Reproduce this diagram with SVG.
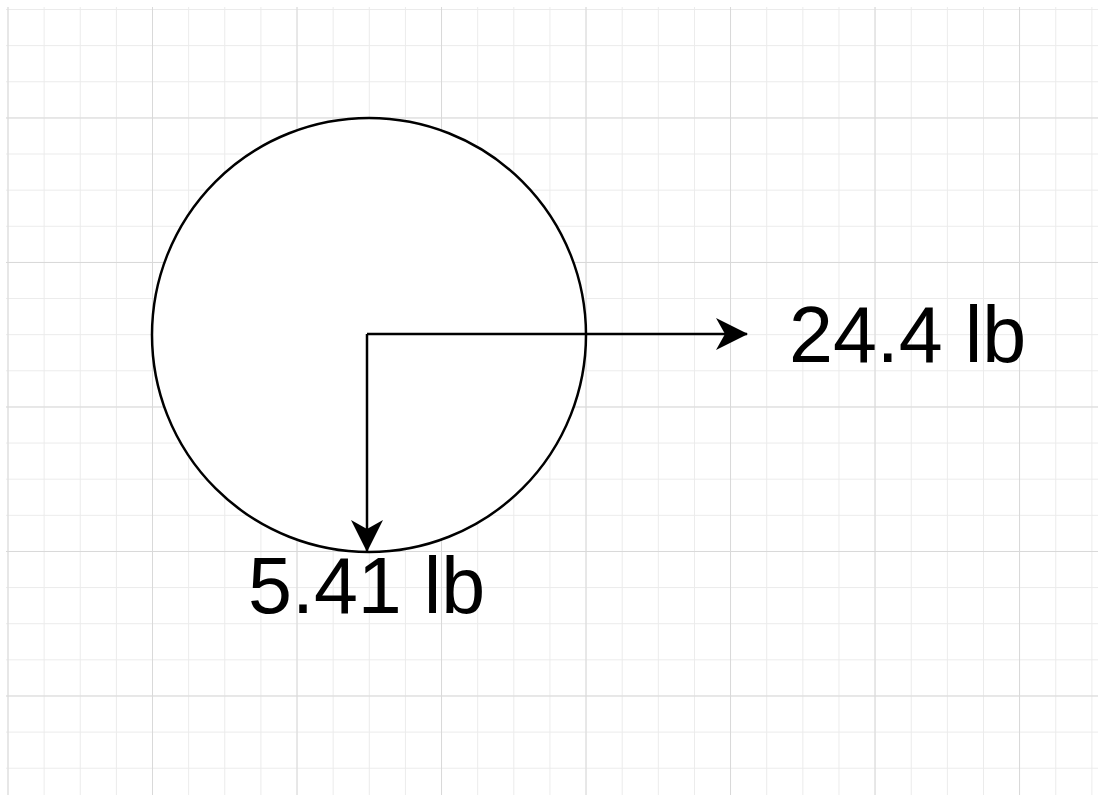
<svg xmlns="http://www.w3.org/2000/svg" width="1098" height="795" viewBox="0 0 1098 795">
<defs>
<style>
.minor{stroke:#ebebeb;stroke-width:2;fill:none}
.major{stroke:#d9d9d9;stroke-width:2;fill:none}
.edge{stroke:#000;stroke-width:2.5;fill:none}
.lbl{font-family:"Liberation Sans",Arial,sans-serif;font-size:79px;fill:#000}
</style>
<marker id="arr" viewBox="0 0 32 32" refX="31" refY="16" markerWidth="32" markerHeight="32" markerUnits="userSpaceOnUse" orient="auto">
<path d="M0,0 L32,16 L0,32 L9,16 Z" fill="#000"/>
</marker>
<pattern id="gmin" x="7.5" y="9" width="36.13" height="36.13" patternUnits="userSpaceOnUse">
<path d="M0,0 H36.13 M0,0 V36.13" class="minor"/>
</pattern>
<pattern id="gmaj" x="7.5" y="117.5" width="144.5" height="144.5" patternUnits="userSpaceOnUse">
<path d="M0,0 H144.5 M0,0 V144.5" class="major"/>
</pattern>
</defs>
<rect width="1098" height="795" fill="#fff"/>
<g id="grid">
<rect x="6" y="7" width="1092" height="788" fill="url(#gmin)"/>
<rect x="6" y="7" width="1092" height="788" fill="url(#gmaj)"/>
</g>
<g id="circle">
<circle cx="369" cy="335" r="217" fill="#fff" stroke="#000" stroke-width="2.5"/>
</g>
<g id="connectors">
<path class="edge" d="M367,334 H747" marker-end="url(#arr)"/>
<path class="edge" d="M367,334 V551" marker-end="url(#arr)"/>
</g>
<g id="label-24">
<text class="lbl" x="789" y="362">24.4 lb</text>
</g>
<g id="label-5">
<text class="lbl" x="248" y="613">5.41 lb</text>
</g>
</svg>
